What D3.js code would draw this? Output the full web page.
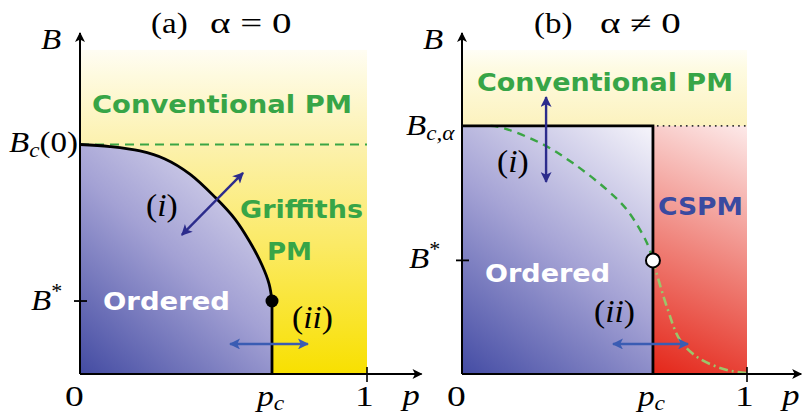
<!DOCTYPE html>
<html><head><meta charset="utf-8">
<script src="https://cdn.jsdelivr.net/npm/d3@7"></script>
<style>
html,body{margin:0;padding:0;background:#fff;}
svg{display:block;}
.serif{font-family:"Liberation Serif","DejaVu Serif",serif;}
.it{font-style:italic;}
.bold{font-family:"DejaVu Sans",Verdana,sans-serif;font-weight:bold;}
</style>
</head><body>
<svg id="chart" width="803" height="419"></svg>
<script>
// ---------- data (B in units of B_c(0), p in [0,1]) ----------
const panelTags = ["(a)", "(b)"];
const panelConds = ["α = 0", "α ≠ 0"];
const regionLabels = ["Conventional PM", "Griffiths", "PM", "Ordered", "CSPM"];
const xTickLabels = ["0", "p_c", "1"];
const axisMax = { p: 1.19, B: 1.486 };
const paleTop = 1.412;

// panel (a)
const pcA = 0.669, BcA = 1.0, BstarA = 0.318;
const boundaryP_A = [0, 0.1045, 0.209, 0.296, 0.383, 0.470, 0.540, 0.592, 0.634, 0.659, 0.669];
const boundaryB_A = [1.0, 0.991, 0.972, 0.937, 0.871, 0.771, 0.675, 0.575, 0.475, 0.392, 0.318];
const arrowIA = [[0.355, 0.606], [0.568, 0.876]];
const arrowIIA = [[0.523, 0.131], [0.794, 0.131]];

// panel (b)
const pcB = 0.67, BcB = 1.081, BstarB = 0.495;
const dashedP_B = [0.10, 0.133, 0.274, 0.389, 0.509, 0.579, 0.649, 0.670];
const dashedB_B = [1.081, 1.076, 1.007, 0.919, 0.802, 0.715, 0.571, 0.495];
const dashdotP_B = [0.670, 0.719, 0.765, 0.825, 0.895, 0.95, 1.0];
const dashdotB_B = [0.495, 0.292, 0.148, 0.074, 0.031, 0.012, 0.004];
const arrowIB = [[0.295, 1.207], [0.295, 0.837]];
const arrowIIB = [[0.530, 0.131], [0.793, 0.131]];

// ---------- scales ----------
const y = d3.scaleLinear().domain([0, 1]).range([374, 144.5]);
const xA = d3.scaleLinear().domain([0, 1]).range([80, 367]);
const xB = d3.scaleLinear().domain([0, 1]).range([462, 747]);

const svg = d3.select("#chart");
const defs = svg.append("defs");

function lin(id, x1, y1, x2, y2, stops) {
  const g = defs.append("linearGradient").attr("id", id)
    .attr("gradientUnits", "userSpaceOnUse")
    .attr("x1", x1).attr("y1", y1).attr("x2", x2).attr("y2", y2);
  stops.forEach(s => g.append("stop").attr("offset", s[0]).attr("stop-color", s[1]));
}
lin("yelA", 0, y(paleTop), 0, y(0), [[0, "#fffdf3"], [0.08, "#fefadf"], [0.3, "#fcf1ac"], [0.6, "#fbea66"], [1, "#f8e000"]]);
lin("yelB", 0, y(paleTop), 0, y(BcB), [[0, "#fffef6"], [0.25, "#fefbe2"], [1, "#fcf2be"]]);
lin("ordA", xA(0), y(0), xA(pcA) + 5, y(BcA), [[0, "#434ba2"], [0.5, "#a3a1d4"], [1, "#ebe9f6"]]);
lin("ordB", xB(0), y(0), xB(pcB), y(BcB), [[0, "#444ca4"], [0.5, "#a5a3d5"], [1, "#f6f5fb"]]);
lin("red", xB(pcB), y(0), xB(1) + 15, y(BcB), [[0, "#e42619"], [0.45, "#ef7f76"], [1, "#fdeeee"]]);

function marker(id, color, w, h) {
  defs.append("marker").attr("id", id)
    .attr("viewBox", "0 0 10 10").attr("refX", 9).attr("refY", 5)
    .attr("markerUnits", "userSpaceOnUse")
    .attr("markerWidth", w).attr("markerHeight", h)
    .attr("orient", "auto-start-reverse")
    .append("path").attr("d", "M0,0 L10,5 L0,10 L2.5,5 Z").attr("fill", color);
}
marker("axArr", "#000", 14, 10);
marker("navy", "#2c2c8c", 13, 11);
marker("blue", "#3a5cb3", 13, 11);

const zip = (a, b) => a.map((v, i) => [v, b[i]]);

// ---------- panel (a) ----------
const gA = svg.append("g");
gA.append("rect").attr("x", xA(0)).attr("y", y(paleTop))
  .attr("width", xA(1) - xA(0)).attr("height", y(0) - y(paleTop)).attr("fill", "url(#yelA)");
const bA = zip(boundaryP_A, boundaryB_A);
const curveA = d3.line().x(d => xA(d[0])).y(d => y(d[1])).curve(d3.curveCatmullRom.alpha(0.5));
const areaPath = "M" + xA(0) + "," + y(0) + "L" + curveA(bA).slice(1) + "L" + xA(pcA) + "," + y(0) + "Z";
gA.append("path").attr("d", areaPath).attr("fill", "url(#ordA)");
gA.append("line").attr("x1", xA(0)).attr("x2", xA(1)).attr("y1", y(BcA)).attr("y2", y(BcA))
  .attr("stroke", "#3aa544").attr("stroke-width", 2.2).attr("stroke-dasharray", "9,6");
gA.append("path").attr("d", curveA(bA)).attr("fill", "none").attr("stroke", "#000").attr("stroke-width", 2.8);
gA.append("line").attr("x1", xA(pcA)).attr("x2", xA(pcA)).attr("y1", y(BstarA)).attr("y2", y(0))
  .attr("stroke", "#000").attr("stroke-width", 2.8);
gA.append("circle").attr("cx", xA(pcA)).attr("cy", y(BstarA)).attr("r", 6.5).attr("fill", "#000");

// ---------- panel (b) ----------
const gB = svg.append("g");
gB.append("rect").attr("x", xB(0)).attr("y", y(paleTop))
  .attr("width", xB(1) - xB(0)).attr("height", y(BcB) - y(paleTop)).attr("fill", "url(#yelB)");
gB.append("rect").attr("x", xB(0)).attr("y", y(BcB))
  .attr("width", xB(pcB) - xB(0)).attr("height", y(0) - y(BcB)).attr("fill", "url(#ordB)");
gB.append("rect").attr("x", xB(pcB)).attr("y", y(BcB))
  .attr("width", xB(1) - xB(pcB)).attr("height", y(0) - y(BcB)).attr("fill", "url(#red)");
const smooth = d3.line().x(d => xB(d[0])).y(d => y(d[1])).curve(d3.curveCatmullRom);
gB.append("path").attr("d", smooth(zip(dashedP_B, dashedB_B))).attr("fill", "none")
  .attr("stroke", "#3aa544").attr("stroke-width", 2.4).attr("stroke-dasharray", "8,6");
gB.append("path").attr("d", smooth(zip(dashdotP_B, dashdotB_B))).attr("fill", "none")
  .attr("stroke", "#9cc56a").attr("stroke-width", 2.6).attr("stroke-dasharray", "9,4,2,4");
gB.append("line").attr("x1", xB(pcB) + 4).attr("x2", xB(1)).attr("y1", y(BcB)).attr("y2", y(BcB))
  .attr("stroke", "#333").attr("stroke-width", 1.6).attr("stroke-dasharray", "1.6,4.2");
gB.append("path").attr("d", `M${xB(0)},${y(BcB)}H${xB(pcB)}V${y(0)}`)
  .attr("fill", "none").attr("stroke", "#000").attr("stroke-width", 2.8);
gB.append("circle").attr("cx", xB(pcB)).attr("cy", y(BstarB)).attr("r", 7)
  .attr("fill", "#fff").attr("stroke", "#000").attr("stroke-width", 2);

// ---------- axes ----------
function axes(g, x, Bticks) {
  g.append("line").attr("x1", x(0)).attr("y1", y(0)).attr("x2", x(axisMax.p)).attr("y2", y(0))
    .attr("stroke", "#000").attr("stroke-width", 2).attr("marker-end", "url(#axArr)");
  g.append("line").attr("x1", x(0)).attr("y1", y(0)).attr("x2", x(0)).attr("y2", y(axisMax.B))
    .attr("stroke", "#000").attr("stroke-width", 2).attr("marker-end", "url(#axArr)");
  g.append("line").attr("x1", x(1)).attr("x2", x(1)).attr("y1", y(0) - 7).attr("y2", y(0) + 8)
    .attr("stroke", "#000").attr("stroke-width", 1.6);
  Bticks.forEach(b => g.append("line").attr("x1", x(0) - 6).attr("x2", x(0) + 7)
    .attr("y1", y(b)).attr("y2", y(b)).attr("stroke", "#000").attr("stroke-width", 1.8));
}
axes(gA, xA, [BstarA]);
axes(gB, xB, [BstarB]);

// ---------- arrows ----------
function dbl(g, x, pts, id, color) {
  g.append("line").attr("x1", x(pts[0][0])).attr("y1", y(pts[0][1]))
    .attr("x2", x(pts[1][0])).attr("y2", y(pts[1][1]))
    .attr("stroke", color).attr("stroke-width", 2.4)
    .attr("marker-start", `url(#${id})`).attr("marker-end", `url(#${id})`);
}
dbl(gA, xA, arrowIA, "navy", "#2c2c8c");
dbl(gA, xA, arrowIIA, "blue", "#3a5cb3");
dbl(gB, xB, arrowIB, "navy", "#2c2c8c");
dbl(gB, xB, arrowIIB, "blue", "#3a5cb3");

// ---------- text ----------
function txt(g, x, yy, cls, size, fill, anchor) {
  return g.append("text").attr("x", x).attr("y", yy).attr("class", cls)
    .attr("font-size", size).attr("fill", fill || "#000").attr("text-anchor", anchor || "start");
}
function stretch(t, f) {
  const w = t.node().getComputedTextLength();
  t.attr("textLength", w * f).attr("lengthAdjust", "spacingAndGlyphs");
  return t;
}
function bold(g, s, x, yy, len, fill) {
  txt(g, x, yy, "bold", 25, fill).attr("textLength", len).attr("lengthAdjust", "spacingAndGlyphs").text(s);
}
stretch(txt(svg, 151, 33, "serif", 30).text(panelTags[0]), 1.1);
stretch(txt(svg, 210, 33, "serif", 30).text(panelConds[0]), 1.3);
stretch(txt(svg, 534, 33, "serif", 30).text(panelTags[1]), 1.1);
stretch(txt(svg, 600, 33, "serif", 30).text(panelConds[1]), 1.3);

bold(gA, regionLabels[0], 92, 113, 260, "#37a547");
bold(gA, regionLabels[1], 240, 218, 123, "#37a547");
bold(gA, regionLabels[2], 267, 260, 45, "#37a547");
bold(gA, regionLabels[3], 103, 310, 127, "#ffffff");
bold(gB, regionLabels[0], 477, 91, 256, "#37a547");
bold(gB, regionLabels[3], 485, 282, 125, "#ffffff");
bold(gB, regionLabels[4], 658, 215, 85, "#3a4aa0");

function italicB(g, x, yy, sub, sup, tail) {
  const t = txt(g, x, yy, "serif", 30);
  t.append("tspan").attr("class", "it").text("B");
  if (sub) t.append("tspan").attr("class", "it").attr("font-size", 21).attr("dy", 5).text(sub);
  if (sup) t.append("tspan").attr("font-size", 20).attr("dy", -12).text(sup);
  if (tail) t.append("tspan").attr("dy", sub ? -5 : 0).text(tail);
  return stretch(t, 1.1);
}
italicB(gA, 41, 49);
italicB(gB, 423, 49);
italicB(gA, 9, 152, "c", null, "(0)");
italicB(gB, 406, 135, "c,α");
italicB(gA, 31, 310, null, "*");
italicB(gB, 409, 268, null, "*");

function pLabels(g, x) {
  stretch(txt(g, x(0) - 15, 406, "serif", 30).text(xTickLabels[0]), 1.25);
  const t = txt(g, x(pcA) - 15, 406, "serif it", 30);
  t.append("tspan").text("p");
  t.append("tspan").attr("font-size", 21).attr("dy", 4).text("c");
  stretch(t, 1.12);
  stretch(txt(g, x(1) - 12, 406, "serif", 30).text(xTickLabels[2]), 1.25);
  stretch(txt(g, x(axisMax.p) - 19, 405, "serif it", 30).text("p"), 1.15);
}
pLabels(gA, xA);
pLabels(gB, xB);

function roman(g, s, x, yy) {
  const t = txt(g, x, yy, "serif", 31);
  t.append("tspan").text("(");
  t.append("tspan").attr("class", "it").text(s);
  t.append("tspan").text(")");
  stretch(t, 1.08);
}
roman(gA, "i", 146, 216);
roman(gA, "ii", 292, 328);
roman(gB, "i", 497, 172);
roman(gB, "ii", 594, 322);
</script>
</body></html>
